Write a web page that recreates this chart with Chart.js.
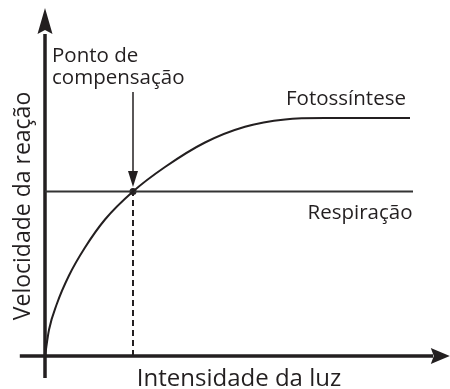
<!DOCTYPE html>
<html>
<head>
<meta charset="utf-8">
<script src="https://cdn.jsdelivr.net/npm/chart.js@4"></script>
<style>
html,body{margin:0;padding:0;background:#fff;}
#wrap{width:450px;height:389px;position:relative;}
</style>
</head>
<body>
<div id="wrap"><canvas id="c" width="450" height="389"></canvas></div>
<script>
// Light intensity (x) vs reaction rate (y), arbitrary units
const photoX = [0, 1, 3, 6, 10, 15, 22, 30, 40, 50, 60, 70, 91.25];
const photoY = [0, 7.5, 15, 23, 31, 39, 47, 54, 61, 65.5, 67.6, 68, 68];
const respX = [0, 92];
const respY = [47, 47];
const compX = [22];
const compY = [47];
const labels = {
  xTitle: "Intensidade da luz",
  yTitle: "Velocidade da reação",
  photo: "Fotossíntese",
  resp: "Respiração",
  comp: ["Ponto de", "compensação"]
};

const INK = '#231f20';
const FONT = '"Open Sans", "Noto Sans", sans-serif';

const toPts = (xs, ys) => xs.map((x, i) => ({x, y: ys[i]}));

function arrowHead(ctx, tipX, tipY, dirX, dirY, len, half, notch) {
  const px = -dirY, py = dirX;
  const bx = tipX - dirX * len, by = tipY - dirY * len;
  ctx.beginPath();
  ctx.moveTo(tipX, tipY);
  ctx.lineTo(bx + px * half, by + py * half);
  ctx.lineTo(tipX - dirX * (len - notch), tipY - dirY * (len - notch));
  ctx.lineTo(bx - px * half, by - py * half);
  ctx.closePath();
  ctx.fill();
}

const decor = {
  id: 'decor',
  beforeDatasetsDraw(chart) {
    const {ctx, scales: {x, y}} = chart;
    ctx.save();
    ctx.strokeStyle = INK; ctx.fillStyle = INK;
    // axes
    ctx.lineWidth = 3.5;
    ctx.beginPath();
    ctx.moveTo(x.getPixelForValue(0), y.getPixelForValue(-6.3));
    ctx.lineTo(x.getPixelForValue(0), y.getPixelForValue(92));
    ctx.moveTo(x.getPixelForValue(-6.3), y.getPixelForValue(0));
    ctx.lineTo(x.getPixelForValue(97), y.getPixelForValue(0));
    ctx.stroke();
    arrowHead(ctx, x.getPixelForValue(0), y.getPixelForValue(99.4), 0, -1, 26, 7.5, 4);
    arrowHead(ctx, x.getPixelForValue(101.2), y.getPixelForValue(0), 1, 0, 19, 8, 3);
    ctx.restore();
  },
  afterDatasetsDraw(chart) {
    const {ctx, scales: {x, y}} = chart;
    ctx.save();
    ctx.strokeStyle = INK; ctx.fillStyle = INK;
    // pointer arrow to compensation point
    const ax = x.getPixelForValue(compX[0]);
    ctx.lineWidth = 1.5;
    ctx.beginPath();
    ctx.moveTo(ax, y.getPixelForValue(75.4));
    ctx.lineTo(ax, y.getPixelForValue(52));
    ctx.stroke();
    arrowHead(ctx, ax, y.getPixelForValue(48.3), 0, 1, 16, 5, 0);
    // texts
    ctx.fillStyle = '#231f20';
    ctx.font = '20.5px ' + FONT;
    ctx.textBaseline = 'alphabetic';
    ctx.textAlign = 'left';
    ctx.fillText(labels.comp[0], 52, 62);
    ctx.fillText(labels.comp[1], 52, 84);
    ctx.textAlign = 'center';
    ctx.fillText(labels.photo, 346, 105);
    ctx.fillText(labels.resp, 360, 219);
    ctx.font = '24px ' + FONT;
    ctx.fillText(labels.xTitle, 239, 386);
    ctx.font = '23px ' + FONT;
    ctx.translate(30, 206);
    ctx.rotate(-Math.PI / 2);
    ctx.fillText(labels.yTitle, 0, 0);
    ctx.restore();
  }
};

new Chart(document.getElementById('c'), {
  type: 'scatter',
  data: {
    datasets: [
      {
        label: labels.photo,
        data: toPts(photoX, photoY),
        showLine: true,
        borderColor: INK,
        borderWidth: 2,
        pointRadius: 0,
        cubicInterpolationMode: 'monotone'
      },
      {
        label: labels.resp,
        data: toPts(respX, respY),
        showLine: true,
        borderColor: '#333',
        borderWidth: 2,
        pointRadius: 0
      },
      {
        label: 'dashed',
        data: [{x: compX[0], y: 0}, {x: compX[0], y: compY[0]}],
        showLine: true,
        borderColor: INK,
        borderWidth: 2,
        borderDash: [6, 4],
        pointRadius: 0
      },
      {
        label: 'ponto',
        data: toPts(compX, compY),
        pointRadius: 3.5,
        pointBackgroundColor: INK,
        pointBorderWidth: 0
      }
    ]
  },
  options: {
    responsive: false,
    animation: false,
    layout: {padding: {left: 45, right: 5, top: 6, bottom: 33}},
    plugins: {legend: {display: false}, tooltip: {enabled: false}},
    scales: {
      x: {type: 'linear', min: 0, max: 100, display: false},
      y: {type: 'linear', min: 0, max: 100, display: false}
    }
  },
  plugins: [decor]
});
</script>
</body>
</html>
